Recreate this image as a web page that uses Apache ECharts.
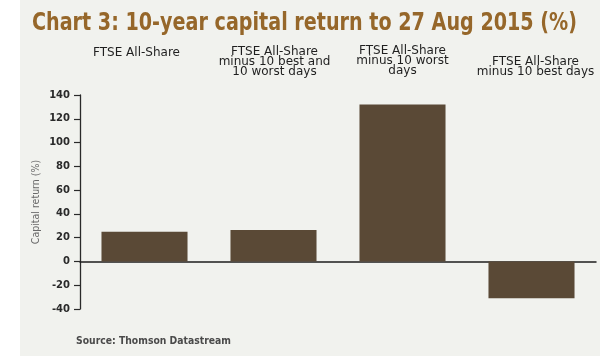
<!DOCTYPE html>
<html>
<head>
<meta charset="utf-8">
<script src="https://cdn.jsdelivr.net/npm/echarts@6/dist/echarts.min.js"></script>
<style>
html,body{margin:0;padding:0;background:#ffffff;}
#c{width:600px;height:358px;}
</style>
</head>
<body>
<div id="c"></div>
<script>
var titleText = 'Chart 3: 10-year capital return to 27 Aug 2015 (%)';
var categories = [
  'FTSE All-Share',
  'FTSE All-Share\nminus 10 best and\n10 worst days',
  'FTSE All-Share\nminus 10 worst\ndays',
  'FTSE All-Share\nminus 10 best days'
];
var values = [25, 26.5, 132, -31];
var yMin = -40, yMax = 140, yStep = 20;
var yName = 'Capital return (%)';
var sourceText = 'Source: Thomson Datastream';

// label padding [top, right, bottom, left] to nudge each category label
var labelPads = [[0, 16, 19, 0], [0, 0, 0, 2], [0, 0, 1, 0], [0, 0, 0, 8]];

var titleFont = 'bold 25px "DejaVu Sans", sans-serif';
var sourceFont = 'bold 11px "DejaVu Sans", sans-serif';
var cv = document.createElement('canvas').getContext('2d');
function widthOf(font, text) { cv.font = font; return cv.measureText(text).width; }
var titleScale = 545 / widthOf(titleFont, titleText);
var sourceScale = 155 / widthOf(sourceFont, sourceText);

var chart = echarts.init(document.getElementById('c'), null, {renderer: 'canvas'});
chart.setOption({
  backgroundColor: '#ffffff',
  animation: false,
  graphic: [
    {type: 'rect', z: -10, shape: {x: 20, y: 0, width: 580, height: 356}, style: {fill: '#f1f2ee'}},
    {type: 'text', x: 32, y: 11, scaleX: titleScale, style: {text: titleText, fill: '#96672a', font: titleFont}},
    {type: 'text', x: 76, y: 336, scaleX: sourceScale, style: {text: sourceText, fill: '#4a4a4a', font: sourceFont}}
  ],
  grid: {left: 80, right: 4, top: 95, bottom: 49, containLabel: false},
  xAxis: [
    {type: 'category', data: categories, position: 'bottom',
      axisLine: {onZero: true, lineStyle: {color: '#1e1e1e', width: 1.5}},
      axisTick: {show: false}, axisLabel: {show: false}, splitLine: {show: false}},
    {type: 'category', data: categories.map(function (c, i) {
        return {value: c, textStyle: {padding: labelPads[i]}};
      }), position: 'top',
      axisLine: {show: false}, axisTick: {show: false}, splitLine: {show: false},
      axisLabel: {interval: 0, margin: 18, color: '#1f1f1f',
        fontFamily: '"DejaVu Sans", sans-serif', fontSize: 12, lineHeight: 10, align: 'center'}}
  ],
  yAxis: {
    type: 'value', min: yMin, max: yMax, interval: yStep,
    name: yName, nameLocation: 'middle', nameGap: 38, nameRotate: 90, nameMoveOverlap: false,
    nameTextStyle: {color: '#6a6a6a', fontSize: 10.5, fontFamily: '"DejaVu Sans Condensed", "DejaVu Sans", sans-serif'},
    axisLine: {show: true, lineStyle: {color: '#2a2a2a', width: 1.3}},
    axisTick: {show: true, length: 6, lineStyle: {color: '#2a2a2a', width: 1.2}},
    axisLabel: {color: '#2a2a2a', fontWeight: 'bold', fontSize: 10, margin: 10,
      fontFamily: '"DejaVu Sans", sans-serif'},
    splitLine: {show: false}
  },
  series: [{
    type: 'bar', xAxisIndex: 0, data: values, barWidth: '66.7%',
    itemStyle: {color: '#5a4936'}
  }]
});
</script>
</body>
</html>
